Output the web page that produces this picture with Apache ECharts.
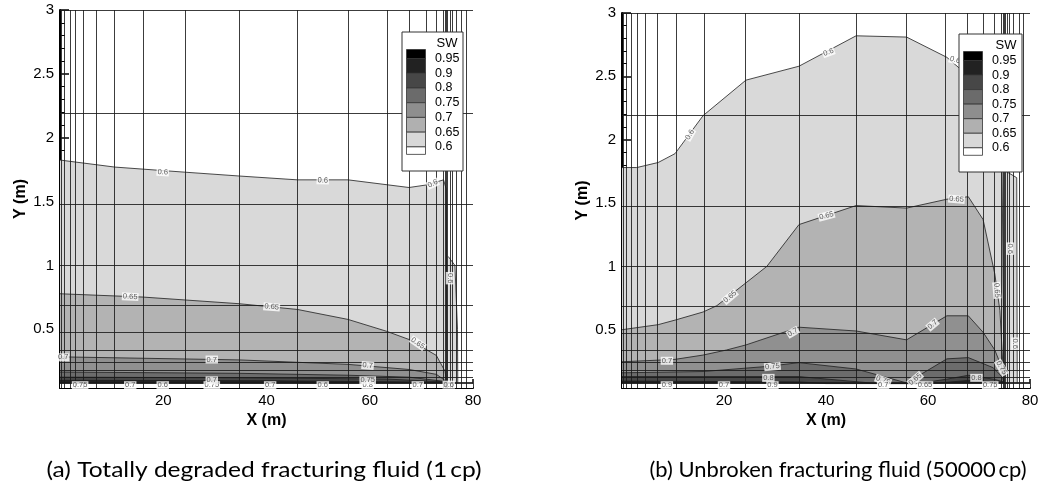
<!DOCTYPE html>
<html><head><meta charset="utf-8">
<script src="https://cdn.jsdelivr.net/npm/echarts@6/dist/echarts.min.js"></script>
<style>html,body{margin:0;padding:0;background:#fff}#c{width:1042px;height:491px}</style>
</head><body><div id="c"></div>
<script>
// ---------- data ----------
const xTickValues = [0, 20, 40, 60, 80];
const yTickValues = [0.5, 1, 1.5, 2, 2.5, 3];
const yMinorValues = [0.1,0.2,0.3,0.4,0.6,0.7,0.8,0.9,1.1,1.2,1.3,1.4,1.6,1.7,1.8,1.9,2.1,2.2,2.3,2.4,2.6,2.7,2.8,2.9];
const xMin = 0, xMax = 80, yMin = 0.04, yMax = 3;
const domainBottom = 0.075;

const meshX = [0.3,0.9,1.9,3.0,4.6,7.0,10.6,16.1,24.2,34.7,46.0,55.8,63.4,67.7,70.9,72.9,74.3,74.7,74.9,75.1,75.5,76.0,76.8,77.8,78.6];
const meshY = [0.08,0.088,0.125,0.18,0.245,0.335,0.475,0.685,1.0,1.475,2.19,3.0];

const levels = [0.6, 0.65, 0.7, 0.75, 0.8, 0.9];
const levelFill = ['#d9d9d9', '#b3b3b3', '#909090', '#6c6c6c', '#474747', '#232323'];

const legendLabels = ['0.95','0.9','0.8','0.75','0.7','0.65','0.6'];
const legendColors = ['#000000','#222222','#474747','#6b6b6b','#8e8e8e','#b0b0b0','#d8d8d8','#ffffff'];

// (a) totally degraded fluid
const a06  = [[0,1.825],[10.6,1.77],[24.2,1.73],[34.7,1.70],[46,1.67],[55.8,1.67],[67.6,1.61],[71,1.63],[74.3,1.67],[74.8,1.6],[75.0,0.08]];
const a06b = [[75.2,1.07],[76.5,1.0],[77.0,0.5],[77.05,0.075]];
const a065 = [[0,0.778],[16.1,0.752],[34.7,0.70],[46,0.655],[55.8,0.577],[63.2,0.485],[67.6,0.42],[72.9,0.295],[74.6,0.17],[74.9,0.08]];
const a07  = [[0,0.284],[34.7,0.26],[55.8,0.225],[67.6,0.185],[72.9,0.147],[74.9,0.09]];
const a075 = [[0,0.165],[34.7,0.155],[55.8,0.14],[67.6,0.125],[74.9,0.09]];
const a08  = [[0,0.125],[34.7,0.12],[63.2,0.11],[74.9,0.088]];
const a09  = [[0,0.1],[40,0.097],[74.9,0.085]];

// (b) unbroken fluid
const b06  = [[0,1.78],[2.9,1.78],[7.1,1.82],[10.4,1.89],[15.9,2.19],[24.3,2.47],[34.7,2.58],[45.9,2.82],[55.8,2.81],[63.7,2.65],[68,2.5],[72,2.2],[74.5,1.9],[74.9,0.08]];
const b06b = [[75.3,1.75],[77.4,1.7],[77.5,0.075]];
const b065 = [[0,0.50],[7.1,0.54],[10.4,0.576],[15.9,0.64],[18.6,0.69],[24.3,0.87],[28.4,1.0],[34.7,1.33],[45.9,1.48],[55.8,1.46],[63.7,1.53],[67.9,1.55],[70.8,1.37],[73.1,0.94],[74.1,0.65],[74.7,0.21],[74.9,0.08]];
const b07  = [[0,0.247],[10.4,0.266],[15.9,0.30],[20.5,0.34],[24.3,0.38],[34.7,0.52],[45.9,0.49],[55.8,0.42],[63.7,0.61],[67.9,0.61],[70.8,0.48],[73.1,0.34],[74.7,0.18],[74.9,0.08]];
const b075 = [[0,0.16],[15.9,0.17],[28.4,0.21],[34.7,0.24],[45.9,0.19],[55.8,0.08],[63.7,0.27],[67.9,0.28],[72.8,0.2],[74.7,0.12],[74.9,0.08]];
const b08  = [[0,0.13],[15.9,0.13],[34.7,0.13],[45.9,0.09],[50,0.075],[58,0.075],[63.7,0.11],[67.9,0.14],[72.8,0.11],[74.7,0.09]];
const b09  = [[0,0.095],[34.7,0.088],[40,0.075],[60,0.075],[63.7,0.085],[67.9,0.1],[74.7,0.085]];

const labelsA = [
 [19.9,1.73,'0.6',-3],[50.9,1.666,'0.6',-2],[72.2,1.64,'0.6',25],
 [13.6,0.755,'0.65',-3],[41,0.675,'0.65',-5],[69.3,0.39,'0.65',-35],
 [0.6,0.28,'0.7',0],[29.4,0.263,'0.7',0],[59.6,0.216,'0.7',-5],
 [75.5,0.9,'0.6',-90],
 [3.9,0.062,'0.75',0],[13.6,0.062,'0.7',0],[19.9,0.062,'0.6',0],[29.4,0.062,'0.75',0],[29.4,0.1,'0.7',0],
 [40.7,0.062,'0.7',0],[50.9,0.062,'0.6',0],[59.6,0.062,'0.8',0],[59.6,0.1,'0.75',0],[69.3,0.062,'0.7',0],[75.3,0.066,'0.6',0]
];
const labelsB = [
 [40.5,2.69,'0.6',20],[65.3,2.63,'0.6',-15],[13.3,2.04,'0.6',60],
 [40.1,1.40,'0.65',15],[65.6,1.53,'0.65',-5],[21.2,0.76,'0.65',40],[73.5,0.81,'0.65',-85],
 [76.1,1.14,'0.6',-90],[77.1,0.39,'0.6',-90],
 [33.5,0.48,'0.7',30],[60.9,0.54,'0.7',40],[8.8,0.255,'0.7',0],
 [29.5,0.21,'0.75',5],[74.4,0.2,'0.75',-60],
 [28.7,0.12,'0.8',0],[69.5,0.12,'0.8',0],[51.2,0.1,'0.75',-20],[57.5,0.11,'0.65',40],
 [8.8,0.062,'0.9',0],[20.0,0.062,'0.7',0],[29.5,0.062,'0.9',0],[51.2,0.062,'0.7',0],[59.4,0.062,'0.65',0],[72.2,0.062,'0.75',0]
];

const captions = ['(a) Totally degraded fracturing fluid (1\u2009cp)', '(b) Unbroken fracturing fluid (50000\u2009cp)'];

// ---------- build ----------
const FONT = 'Liberation Sans';
const CAP_FONT = '21px Lato';
const panels = [
  {contours:[a06,a065,a07,a075,a08,a09], extra:a06b, labels:labelsA, legend:{x:402,y:32,w:61,h:139,step:14.73}, cap:{x:264,y:470,w:435}},
  {contours:[b06,b065,b07,b075,b08,b09], extra:b06b, labels:labelsB, legend:{x:959,y:34,w:63,h:138,step:14.55}, cap:{x:838,y:470,w:377}}
];

const measureCtx = document.createElement('canvas').getContext('2d');
measureCtx.font = CAP_FONT;

const grids = [{left:60, top:10, width:413, height:378}, {left:622, top:13, width:408, height:375}];
const xAxes = [], yAxes = [], series = [], graphic = [];

panels.forEach((p, i) => {
  xAxes.push({
    gridIndex:i, type:'value', min:xMin, max:xMax, interval:20,
    name:'X (m)', nameLocation:'middle', nameGap:18,
    nameTextStyle:{fontFamily:FONT, fontWeight:'bold', fontSize:16, color:'#000'},
    axisLine:{show:true, lineStyle:{color:'#000', width:2}},
    axisTick:{show:true, inside:true, length:9, lineStyle:{color:'#000', width:1.5}},
    minorTick:{show:true, splitNumber:4, length:5, lineStyle:{color:'#000', width:1}},
    axisLabel:{showMinLabel:false, fontFamily:FONT, fontSize:15, color:'#000', margin:5},
    splitLine:{show:false}
  });
  yAxes.push({
    gridIndex:i, type:'value', min:yMin, max:yMax, position:'left',
    name:'Y (m)', nameLocation:'middle', nameGap:31,
    nameTextStyle:{fontFamily:FONT, fontWeight:'bold', fontSize:16, color:'#000'},
    axisLine:{show:true, lineStyle:{color:'#000', width:2}},
    axisTick:{show:true, inside:true, length:9, customValues:yTickValues, lineStyle:{color:'#000', width:1.5}},
    axisLabel:{customValues:yTickValues, fontFamily:FONT, fontSize:15, color:'#000', margin:6},
    splitLine:{show:false}
  });
  yAxes.push({
    gridIndex:i, type:'value', min:yMin, max:yMax, position:'left', offset:0,
    axisLine:{show:false},
    axisTick:{show:true, inside:true, length:5, customValues:yMinorValues, lineStyle:{color:'#000', width:1}},
    axisLabel:{show:false}, splitLine:{show:false}
  });
  const yi = i*2;
  p.contours.forEach((c, k) => {
    series.push({
      type:'line', xAxisIndex:i, yAxisIndex:yi, data:c, showSymbol:false, symbol:'none',
      lineStyle:{color:'#1e1e1e', width:0.8},
      areaStyle:{color:levelFill[k], opacity:1, origin:'start'},
      z:2, silent:true, animation:false
    });
  });
  series.push({
    type:'line', xAxisIndex:i, yAxisIndex:yi, data:p.extra, showSymbol:false, symbol:'none',
    lineStyle:{color:'#1e1e1e', width:0.8},
    areaStyle:{color:levelFill[0], opacity:1, origin:'start'},
    z:2, silent:true, animation:false
  });
  // region below the mesh bottom: outside the domain, left blank
  series.push({
    type:'line', xAxisIndex:i, yAxisIndex:yi, data:[[xMin,domainBottom],[xMax,domainBottom]],
    showSymbol:false, symbol:'none', lineStyle:{width:0},
    areaStyle:{color:'#ffffff', opacity:1, origin:'start'},
    z:2, silent:true, animation:false
  });
  const meshData = meshX.map(x => ({coords:[[x,yMin],[x,yMax]]}))
    .concat(meshY.map(y => ({coords:[[xMin,y],[xMax,y]]})));
  series.push({
    type:'lines', coordinateSystem:'cartesian2d', xAxisIndex:i, yAxisIndex:yi,
    data:meshData, polyline:false, silent:true, animation:false,
    lineStyle:{color:'#1a1a1a', width:1, opacity:0.85}, z:3
  });
  series.push({
    type:'scatter', xAxisIndex:i, yAxisIndex:yi, symbolSize:0, silent:true, animation:false,
    itemStyle:{color:'rgba(0,0,0,0)'}, z:4,
    data:p.labels.map(l => ({value:[l[0], l[1]], label:{formatter:l[2], rotate:l[3]}})),
    label:{show:true, position:'inside', fontFamily:FONT, fontSize:7.5, color:'#333',
           backgroundColor:'#ffffff', padding:[0,1]},
    labelLayout:{hideOverlap:false}
  });
  // legend
  const L = p.legend, children = [];
  const Z = 100;
  children.push({type:'rect', z:Z, shape:{x:0,y:0,width:L.w,height:L.h}, style:{fill:'#fff', stroke:'#333', lineWidth:1}});
  children.push({type:'text', z:Z+1, x:L.w-16, y:11, style:{text:'SW', font:'13px "Liberation Sans"', fill:'#000', align:'center', verticalAlign:'middle', textAlign:'center', textVerticalAlign:'middle'}});
  const b0 = 26.5, swTop = 17.5, swBot = b0 + 6*L.step + 7.5;
  for (let k = 0; k < legendColors.length; k++) {
    const top = k === 0 ? swTop : b0 + (k-1)*L.step;
    const bot = k === legendColors.length-1 ? swBot : b0 + k*L.step;
    children.push({type:'rect', z:Z+1, shape:{x:4.5, y:top, width:19, height:bot-top}, style:{fill:legendColors[k], stroke:'#333', lineWidth:0.8}});
  }
  legendLabels.forEach((t, k) => {
    children.push({type:'text', z:Z+1, x:33, y:b0 + k*L.step, style:{text:t, font:'12.5px "Liberation Sans"', fill:'#000', align:'left', verticalAlign:'middle', textAlign:'left', textVerticalAlign:'middle'}});
  });
  graphic.push({type:'group', x:L.x, y:L.y, z:Z, children});
  // caption
  const natural = measureCtx.measureText(captions[i]).width || p.cap.w;
  graphic.push({type:'text', x:p.cap.x, y:p.cap.y, z:Z, scaleX:p.cap.w/natural, originX:0, originY:0,
    style:{text:captions[i], font:CAP_FONT, fill:'#000', align:'center', verticalAlign:'middle', textAlign:'center', textVerticalAlign:'middle'}});
});

const chart = echarts.init(document.getElementById('c'), null, {renderer:'canvas'});
chart.setOption({
  animation:false, backgroundColor:'#fff',
  grid:grids, xAxis:xAxes, yAxis:yAxes, series, graphic
});
</script></body></html>
